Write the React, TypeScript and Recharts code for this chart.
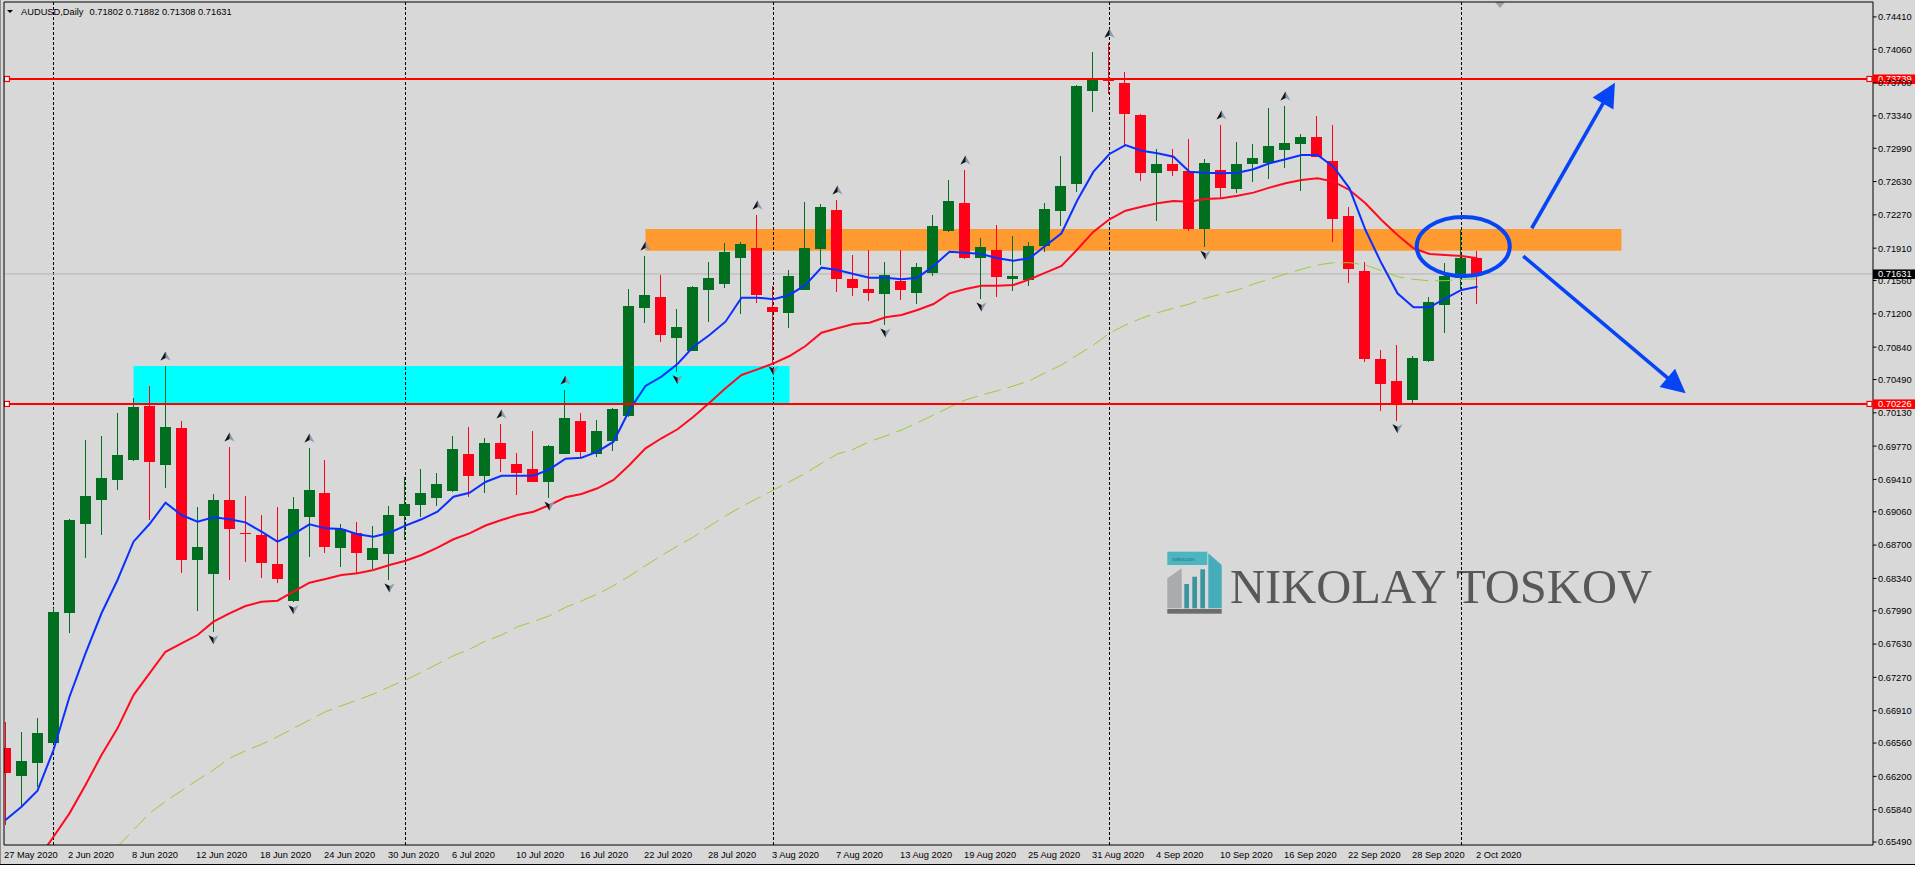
import React from 'react';
import {
  Bar,
  ComposedChart,
  Line,
  ReferenceArea,
  ReferenceDot,
  ReferenceLine,
  XAxis,
  YAxis,
} from 'recharts';

// AUDUSD daily bars, 27 May 2020 .. 2 Oct 2020
const dates = [
  '27 May 2020', '28 May 2020', '29 May 2020', '1 Jun 2020', '2 Jun 2020', '3 Jun 2020', '4 Jun 2020', '5 Jun 2020',
  '8 Jun 2020', '9 Jun 2020', '10 Jun 2020', '11 Jun 2020', '12 Jun 2020', '15 Jun 2020', '16 Jun 2020', '17 Jun 2020',
  '18 Jun 2020', '19 Jun 2020', '22 Jun 2020', '23 Jun 2020', '24 Jun 2020', '25 Jun 2020', '26 Jun 2020', '29 Jun 2020',
  '30 Jun 2020', '1 Jul 2020', '2 Jul 2020', '3 Jul 2020', '6 Jul 2020', '7 Jul 2020', '8 Jul 2020', '9 Jul 2020',
  '10 Jul 2020', '13 Jul 2020', '14 Jul 2020', '15 Jul 2020', '16 Jul 2020', '17 Jul 2020', '20 Jul 2020', '21 Jul 2020',
  '22 Jul 2020', '23 Jul 2020', '24 Jul 2020', '27 Jul 2020', '28 Jul 2020', '29 Jul 2020', '30 Jul 2020', '31 Jul 2020',
  '3 Aug 2020', '4 Aug 2020', '5 Aug 2020', '6 Aug 2020', '7 Aug 2020', '10 Aug 2020', '11 Aug 2020', '12 Aug 2020',
  '13 Aug 2020', '14 Aug 2020', '17 Aug 2020', '18 Aug 2020', '19 Aug 2020', '20 Aug 2020', '21 Aug 2020', '24 Aug 2020',
  '25 Aug 2020', '26 Aug 2020', '27 Aug 2020', '28 Aug 2020', '31 Aug 2020', '1 Sep 2020', '2 Sep 2020', '3 Sep 2020',
  '4 Sep 2020', '7 Sep 2020', '8 Sep 2020', '9 Sep 2020', '10 Sep 2020', '11 Sep 2020', '14 Sep 2020', '15 Sep 2020',
  '16 Sep 2020', '17 Sep 2020', '18 Sep 2020', '21 Sep 2020', '22 Sep 2020', '23 Sep 2020', '24 Sep 2020', '25 Sep 2020',
  '28 Sep 2020', '29 Sep 2020', '30 Sep 2020', '1 Oct 2020', '2 Oct 2020',
];

const opens = [
  0.66503, 0.66207, 0.66347, 0.66564, 0.67963, 0.68928, 0.69187, 0.69404, 0.6962, 0.70204,
  0.69569, 0.69966, 0.68539, 0.68391, 0.69187, 0.68831, 0.68809, 0.68496, 0.68099, 0.69007,
  0.6926, 0.68672, 0.68827, 0.68539, 0.68607, 0.69015, 0.69133, 0.69212, 0.69285, 0.69685,
  0.6945, 0.69804, 0.69577, 0.69523, 0.69385, 0.69685, 0.70042, 0.69685, 0.69829, 0.70096,
  0.71266, 0.71382, 0.70939, 0.70802, 0.71461, 0.71523, 0.71807, 0.71912, 0.71274, 0.71212,
  0.71461, 0.71904, 0.72323, 0.71577, 0.71469, 0.71418, 0.71555, 0.71429, 0.71645, 0.72096,
  0.72398, 0.718, 0.7189, 0.71573, 0.71566, 0.71937, 0.72315, 0.72601, 0.73612, 0.73742,
  0.73696, 0.7335, 0.72726, 0.7282, 0.72744, 0.72117, 0.72755, 0.72553, 0.72823, 0.72834,
  0.72975, 0.7304, 0.73112, 0.72852, 0.72258, 0.71663, 0.70712, 0.70474, 0.70272, 0.7069,
  0.71292, 0.71588, 0.71802,
];

const highs = [
  0.66791, 0.66683, 0.66827, 0.68023, 0.68982, 0.69836, 0.69879, 0.70125, 0.7029, 0.7042,
  0.70636, 0.70042, 0.69112, 0.69252, 0.69761, 0.69231, 0.69025, 0.69115, 0.6922, 0.6975,
  0.6962, 0.68928, 0.6895, 0.6891, 0.69123, 0.69439, 0.69523, 0.69483, 0.69883, 0.6998,
  0.69858, 0.70009, 0.69692, 0.69933, 0.69782, 0.70377, 0.70131, 0.70052, 0.7018, 0.71469,
  0.71825, 0.7162, 0.71252, 0.71501, 0.71761, 0.71966, 0.71977, 0.72269, 0.71501, 0.71674,
  0.72409, 0.72388, 0.72431, 0.71836, 0.7189, 0.71761, 0.7189, 0.7175, 0.72269, 0.72647,
  0.72755, 0.7202, 0.72157, 0.72042, 0.71977, 0.72395, 0.72906, 0.7367, 0.74031, 0.74125,
  0.73815, 0.7336, 0.72982, 0.72982, 0.7309, 0.72874, 0.73242, 0.73058, 0.73036, 0.73425,
  0.73447, 0.73144, 0.73339, 0.73242, 0.72352, 0.71764, 0.70809, 0.70863, 0.70744, 0.71382,
  0.71746, 0.72106, 0.71882,
];

const lows = [
  0.65674, 0.65872, 0.66088, 0.66557, 0.67746, 0.68564, 0.68809, 0.69296, 0.69609, 0.68971,
  0.6932, 0.68395, 0.67991, 0.67764, 0.68323, 0.68517, 0.68347, 0.68287, 0.68088, 0.68575,
  0.68618, 0.68466, 0.68402, 0.68438, 0.68323, 0.68755, 0.69007, 0.69126, 0.69277, 0.69217,
  0.69266, 0.69493, 0.69242, 0.6938, 0.69206, 0.6968, 0.69656, 0.69656, 0.6972, 0.70088,
  0.71104, 0.70899, 0.70575, 0.70798, 0.71112, 0.7148, 0.71202, 0.71317, 0.70672, 0.7105,
  0.71455, 0.71731, 0.71439, 0.71396, 0.71342, 0.71079, 0.71353, 0.7131, 0.71612, 0.7208,
  0.7179, 0.71361, 0.71385, 0.7145, 0.71501, 0.71865, 0.72153, 0.72521, 0.73385, 0.73574,
  0.73025, 0.72636, 0.72207, 0.72693, 0.72099, 0.71919, 0.72456, 0.7251, 0.72629, 0.72661,
  0.72777, 0.72531, 0.72896, 0.7198, 0.71537, 0.70676, 0.70153, 0.70045, 0.70233, 0.70683,
  0.70996, 0.71469, 0.71308,
];

const closes = [
  0.66233, 0.66366, 0.66665, 0.67973, 0.68971, 0.69231, 0.69425, 0.69674, 0.70193, 0.69601,
  0.69977, 0.68539, 0.68679, 0.69187, 0.68874, 0.68825, 0.6851, 0.68337, 0.6909, 0.69296,
  0.68683, 0.68874, 0.68618, 0.68665, 0.69025, 0.69141, 0.6926, 0.6936, 0.69739, 0.6945,
  0.69804, 0.69627, 0.69476, 0.69385, 0.69771, 0.70074, 0.6971, 0.69933, 0.70171, 0.71285,
  0.71404, 0.70975, 0.71058, 0.7149, 0.71588, 0.71869, 0.71955, 0.71404, 0.71223, 0.71609,
  0.71912, 0.72355, 0.7158, 0.71483, 0.71429, 0.7162, 0.71461, 0.71707, 0.7215, 0.7242,
  0.718, 0.71919, 0.71595, 0.71609, 0.71934, 0.72334, 0.72582, 0.73663, 0.73736, 0.73714,
  0.73364, 0.72726, 0.7282, 0.72748, 0.72117, 0.72831, 0.72564, 0.7282, 0.72885, 0.73015,
  0.73044, 0.73115, 0.72899, 0.72229, 0.71688, 0.70712, 0.70445, 0.70233, 0.70719, 0.71328,
  0.71606, 0.718, 0.71631,
];

// moving averages as drawn on the chart (blue fast, red mid, green dashed slow)
const maFast = [
  0.65728, 0.65872, 0.66045, 0.66485, 0.67061, 0.6753, 0.67963, 0.68323, 0.68737, 0.68928,
  0.69158, 0.69025, 0.68953, 0.69, 0.68979, 0.68946, 0.68845, 0.68737, 0.6882, 0.68925,
  0.68881, 0.68874, 0.68817, 0.68791, 0.68834, 0.6891, 0.68979, 0.69061, 0.69223, 0.69266,
  0.69382, 0.6945, 0.6945, 0.6945, 0.69519, 0.69634, 0.69645, 0.6971, 0.69818, 0.7016,
  0.7042, 0.70521, 0.70658, 0.70845, 0.70971, 0.71115, 0.71375, 0.71375, 0.71357, 0.71404,
  0.71512, 0.71699, 0.71674, 0.71631, 0.71591, 0.71591, 0.71573, 0.71591, 0.71717, 0.71872,
  0.71861, 0.71847, 0.718, 0.71775, 0.718, 0.71937, 0.72071, 0.72431, 0.72737, 0.72928,
  0.73025, 0.72964, 0.72936, 0.72899, 0.72737, 0.72726, 0.7272, 0.72726, 0.72763, 0.72828,
  0.72871, 0.72917, 0.72917, 0.72791, 0.72557, 0.72106, 0.71746, 0.71422, 0.71271, 0.71271,
  0.71368, 0.71458, 0.71493,
];

const maMid = [
  null, null, 0.653, 0.65547, 0.658, 0.66106, 0.66431, 0.66719, 0.67079, 0.67314,
  0.67547, 0.67638, 0.67728, 0.67872, 0.67963, 0.68042, 0.68088, 0.68099, 0.68196, 0.68293,
  0.68333, 0.68377, 0.68395, 0.68431, 0.68485, 0.68531, 0.68593, 0.68672, 0.68763, 0.68827,
  0.68912, 0.68971, 0.69025, 0.69061, 0.69133, 0.69217, 0.69252, 0.69314, 0.69404, 0.69566,
  0.69746, 0.69855, 0.69952, 0.70088, 0.70239, 0.70395, 0.70539, 0.706, 0.70665, 0.70744,
  0.70852, 0.70996, 0.71044, 0.7109, 0.71104, 0.71163, 0.71188, 0.71242, 0.71306, 0.71422,
  0.71469, 0.71504, 0.71504, 0.71512, 0.71573, 0.71645, 0.71717, 0.71898, 0.72088, 0.72222,
  0.72315, 0.72358, 0.72395, 0.7242, 0.72412, 0.72442, 0.72449, 0.72477, 0.7251, 0.72564,
  0.72611, 0.72647, 0.72665, 0.72629, 0.72539, 0.72395, 0.72215, 0.72052, 0.71909, 0.71847,
  0.71836, 0.71825, 0.718,
];

const maSlow = [
  null, null, null, null, null, null, null, 0.6544, 0.6562, 0.658,
  0.6593, 0.66045, 0.6616, 0.66269, 0.66395, 0.66477, 0.66546, 0.66629, 0.66719, 0.66809,
  0.66899, 0.66964, 0.67025, 0.6709, 0.67169, 0.67242, 0.67325, 0.67414, 0.67504, 0.67573,
  0.67663, 0.67728, 0.67818, 0.67872, 0.67937, 0.68027, 0.68096, 0.68171, 0.68261, 0.68366,
  0.68477, 0.68587, 0.6869, 0.68787, 0.68906, 0.69015, 0.69115, 0.69206, 0.69296, 0.69385,
  0.69476, 0.69584, 0.69685, 0.69736, 0.69818, 0.69879, 0.69944, 0.70023, 0.70106, 0.7019,
  0.70269, 0.70323, 0.70369, 0.7042, 0.70477, 0.70564, 0.70647, 0.70755, 0.70863, 0.7099,
  0.71079, 0.71152, 0.71212, 0.7126, 0.71306, 0.71368, 0.71415, 0.71458, 0.71523, 0.71573,
  0.71631, 0.71682, 0.71728, 0.71753, 0.71753, 0.71728, 0.71666, 0.71602, 0.71573, 0.71558,
  0.71558, 0.71573, 0.71577,
];

// bar indexes carrying a fractal arrow
const upFractals = [10, 14, 19, 31, 35, 40, 47, 52, 60, 69, 76, 80];
const downFractals = [13, 18, 24, 34, 42, 48, 55, 61, 75, 87];

const priceTicks = [
  0.7441, 0.7406, 0.737, 0.7334, 0.7299, 0.7263, 0.7227, 0.7191, 0.7156, 0.712, 0.7084, 0.7049, 0.7013,
  0.6977, 0.6941, 0.6906, 0.687, 0.6834, 0.6799, 0.6763, 0.6727, 0.6691, 0.6656, 0.662, 0.6584, 0.6549,
];
const dateTicks = [0, 4, 8, 12, 16, 20, 24, 28, 32, 36, 40, 44, 48, 52, 56, 60, 64, 68, 72, 76, 80, 84, 88, 92];
const monthStarts = [3, 25, 48, 69, 91];

const levels = [0.73739, 0.70226];
const lastPrice = closes[closes.length - 1];

// drawn objects, anchored in (bar index, price)
const supplyZone = { x1: 40, x2: 101, y1: 0.71883, y2: 0.72117 };
const demandZone = { x1: 8, x2: 49, y1: 0.7023, y2: 0.70636 };
const focusRing = { x1: 88.2, x2: 94.02, y1: 0.71609, y2: 0.72247 };
const scenarios = [
  { x1: 95.39, y1: 0.72125, x2: 100.59, y2: 0.73699 },
  { x1: 94.86, y1: 0.71825, x2: 105.01, y2: 0.70341 },
];

const X_DOMAIN: [number, number] = [-0.094, 116.72];
const Y_DOMAIN: [number, number] = [0.65458, 0.74571];

const COLOR = {
  bg: '#d8d8d8',
  bull: '#007020',
  bear: '#ff0019',
  fast: '#0a30ff',
  mid: '#ff0a1e',
  slow: '#9acd32',
  level: '#ff0000',
  supply: '#ff9a30',
  demand: '#00ffff',
  drawing: '#0645f5',
  last: '#b4b4b4',
} as const;

const FONT = "'Liberation Sans', Arial, sans-serif";

const rows = dates.map((d, k) => ({
  k,
  date: d,
  open: opens[k],
  high: highs[k],
  low: lows[k],
  close: closes[k],
  range: [lows[k], highs[k]],
  fast: maFast[k],
  mid: maMid[k],
  slow: maSlow[k],
}));

function Candle(props: any) {
  const { x, y, width, height, payload } = props;
  if (!payload || height == null) return null;
  const { open, close, high, low } = payload;
  const h = Math.abs(height);
  const top = height >= 0 ? y : y + height;
  const ppu = high - low > 0 ? h / (high - low) : 0;
  const yOf = (v: number) => top + (high - v) * ppu;
  const cx = x + width / 2;
  const color = close >= open ? COLOR.bull : COLOR.bear;
  const bTop = yOf(Math.max(open, close));
  const bBot = yOf(Math.min(open, close));
  return (
    <g shapeRendering="crispEdges">
      <line x1={cx} x2={cx} y1={top} y2={top + h} stroke={color} strokeWidth={1} />
      <rect x={x} y={bTop} width={width} height={Math.max(1, bBot - bTop)} fill={color} />
    </g>
  );
}

function FractalArrow({ cx, cy, up }: { cx: number; cy: number; up: boolean }) {
  const s = up ? 1 : -1;
  const c = up ? cy - 10 : cy + 8;
  return (
    <g transform={`translate(${cx},${c}) scale(1,${s})`}>
      <path d="M0,-4.5 L5,4.5 L0,2 L-5,4.5 Z" fill="#8a9ab0" />
      <path d="M0,-4.5 L0,2 L-5,4.5 Z" fill="#111" />
    </g>
  );
}

function ArrowShape(props: any) {
  const { x1, y1, x2, y2 } = props;
  const dx = x2 - x1;
  const dy = y2 - y1;
  const len = Math.hypot(dx, dy) || 1;
  const ux = dx / len;
  const uy = dy / len;
  const bx = x2 - ux * 24;
  const by = y2 - uy * 24;
  const px = -uy * 12;
  const py = ux * 12;
  return (
    <g>
      <line x1={x1} y1={y1} x2={bx + ux * 3} y2={by + uy * 3} stroke={COLOR.drawing} strokeWidth={3.6} />
      <polygon points={`${x2},${y2} ${bx + px},${by + py} ${bx - px},${by - py}`} fill={COLOR.drawing} />
    </g>
  );
}

function RingShape(props: any) {
  const { x, y, width, height } = props;
  return (
    <ellipse
      cx={x + width / 2}
      cy={y + height / 2}
      rx={Math.abs(width) / 2}
      ry={Math.abs(height) / 2}
      fill="none"
      stroke={COLOR.drawing}
      strokeWidth={4}
    />
  );
}

function PriceTag({ viewBox, value, bg }: any) {
  if (!viewBox) return null;
  const left = viewBox.x + viewBox.width;
  const y = viewBox.y;
  return (
    <g>
      <rect x={left} y={y - 4.5} width={42} height={9.5} fill={bg} />
      <text x={left + 5} y={y + 3.4} fill="#fff" fontSize={9.3} fontFamily={FONT}>
        {value.toFixed(5)}
      </text>
    </g>
  );
}

function AnchorSquare({ cx, cy }: any) {
  return <rect x={cx - 2.5} y={cy - 2.5} width={5} height={5} fill="#fff" stroke={COLOR.level} strokeWidth={1.2} />;
}

function YTick({ x, y, payload }: any) {
  return (
    <g>
      <line x1={x} x2={x + 3.5} y1={y} y2={y} stroke="#000" />
      <text x={x + 5} y={y + 3.4} fontSize={9.3} fontFamily={FONT} fill="#000">
        {Number(payload.value).toFixed(5)}
      </text>
    </g>
  );
}

function XTick({ x, y, payload }: any) {
  return (
    <text x={x - 1.5} y={y + 12.5} fontSize={9.3} fontFamily={FONT} fill="#000">
      {dates[payload.value]}
    </text>
  );
}

function Underlay() {
  const last = opens.length - 1;
  return (
    <svg width={1915} height={864} style={{ position: 'absolute', left: 0, top: 0 }}>
      <rect x={0} y={0} width={1} height={864} fill="#8c8c8c" />
      <polygon points="7,10 13,10 10,13" fill="#000" />
      <text x={21} y={14.7} fontSize={9.3} fontFamily={FONT} fill="#000">
        <tspan>AUDUSD,Daily</tspan>
        <tspan dx={6}>
          {`${opens[last].toFixed(5)} ${highs[last].toFixed(5)} ${lows[last].toFixed(5)} ${closes[last].toFixed(5)}`}
        </tspan>
      </text>
      {/* watermark */}
      <g transform="translate(1167.3,551.7)">
        <rect x={0} y={0} width={40} height={13.3} fill="#4bb5c0" />
        <text x={5} y={9} fontSize={4.5} fontFamily={FONT} fill="#2a6f78">
          toskov.com
        </text>
        <polygon points="41,1.6 54.4,13.3 54.4,56.6 41,56.6" fill="#45adb9" />
        <polygon points="0,26.6 14.4,16.6 14.4,56.6 0,56.6" fill="#a9abae" />
        <rect x={17} y={32.3} width={4.7} height={24.3} fill="#3c96a0" />
        <rect x={25} y={25} width={4.7} height={31.6} fill="#3c96a0" />
        <rect x={33} y={17.6} width={4.7} height={39} fill="#3c96a0" />
        <rect x={0} y={57.3} width={54.4} height={4.7} fill="#6d6d6d" />
      </g>
      <text
        x={1230}
        y={603.3}
        fontSize={48}
        fontFamily="'Liberation Serif', 'DejaVu Serif', serif"
        fill="#585858"
        textLength={422}
        lengthAdjust="spacingAndGlyphs"
      >
        NIKOLAY TOSKOV
      </text>
      {/* chart shift marker */}
      <polygon points="1495,2 1505,2 1500,8" fill="#a0a0a0" />
    </svg>
  );
}

export default function App() {
  return (
    <div style={{ position: 'relative', width: 1915, height: 869, background: '#fff', overflow: 'hidden' }}>
      <style>{'body{margin:0}'}</style>
      <div style={{ position: 'absolute', left: 0, top: 0, width: 1915, height: 864, background: COLOR.bg }} />
      <Underlay />
      <div style={{ position: 'absolute', left: 0, top: 0 }}>
        <ComposedChart width={1915} height={864} data={rows} margin={{ top: 2, right: 0, bottom: 0, left: 4 }}>
          <XAxis
            dataKey="k"
            type="number"
            domain={X_DOMAIN}
            allowDataOverflow
            ticks={dateTicks}
            interval={0}
            height={19}
            tickSize={0}
            tickMargin={0}
            tickLine={false}
            axisLine={{ stroke: '#000' }}
            tick={<XTick />}
          />
          <YAxis
            orientation="right"
            type="number"
            domain={Y_DOMAIN}
            allowDataOverflow
            ticks={priceTicks}
            interval={0}
            width={42}
            tickSize={0}
            tickMargin={0}
            tickLine={false}
            axisLine={{ stroke: '#000' }}
            tick={<YTick />}
          />

          <ReferenceArea {...supplyZone} fill={COLOR.supply} fillOpacity={1} stroke="none" zIndex={10} />
          <ReferenceArea {...demandZone} fill={COLOR.demand} fillOpacity={1} stroke="none" zIndex={10} />

          {monthStarts.map((k) => (
            <ReferenceLine key={`sep-${k}`} x={k} stroke="#000" strokeDasharray="3 2" zIndex={20} />
          ))}
          <ReferenceLine
            y={lastPrice}
            stroke={COLOR.last}
            zIndex={20}
            label={(p: any) => <PriceTag {...p} value={lastPrice} bg="#000" />}
          />

          <Bar dataKey="range" barSize={11} shape={Candle} isAnimationActive={false} />

          <Line dataKey="slow" type="linear" stroke={COLOR.slow} strokeWidth={1} strokeDasharray="17 7" dot={false} activeDot={false} isAnimationActive={false} />
          <Line dataKey="mid" type="linear" stroke={COLOR.mid} strokeWidth={2} dot={false} activeDot={false} isAnimationActive={false} />
          <Line dataKey="fast" type="linear" stroke={COLOR.fast} strokeWidth={2} dot={false} activeDot={false} isAnimationActive={false} />

          {upFractals.map((k) => (
            <ReferenceDot key={`up-${k}`} x={k} y={highs[k]} zIndex={600} shape={(p: any) => <FractalArrow cx={p.cx} cy={p.cy} up />} />
          ))}
          {downFractals.map((k) => (
            <ReferenceDot key={`dn-${k}`} x={k} y={lows[k]} zIndex={600} shape={(p: any) => <FractalArrow cx={p.cx} cy={p.cy} up={false} />} />
          ))}

          {levels.map((v) => (
            <ReferenceLine
              key={`lvl-${v}`}
              y={v}
              stroke={COLOR.level}
              strokeWidth={2}
              zIndex={650}
              label={(p: any) => <PriceTag {...p} value={v} bg={COLOR.level} />}
            />
          ))}
          {levels.map((v) => (
            <ReferenceDot key={`la-${v}`} x={0.09} y={v} zIndex={660} shape={AnchorSquare} />
          ))}
          {levels.map((v) => (
            <ReferenceDot key={`lb-${v}`} x={116.5} y={v} zIndex={660} shape={AnchorSquare} />
          ))}

          <ReferenceArea {...focusRing} zIndex={700} shape={RingShape} />
          {scenarios.map((s, i) => (
            <ReferenceLine
              key={`arrow-${i}`}
              segment={[{ x: s.x1, y: s.y1 }, { x: s.x2, y: s.y2 }]}
              zIndex={700}
              shape={ArrowShape}
            />
          ))}

          <ReferenceLine x={X_DOMAIN[0]} stroke="#000" zIndex={700} />
          <ReferenceLine y={Y_DOMAIN[1]} stroke="#000" zIndex={700} />
        </ComposedChart>
      </div>
      <div style={{ position: 'absolute', left: 0, top: 864, width: 1915, height: 1, background: '#000' }} />
    </div>
  );
}
